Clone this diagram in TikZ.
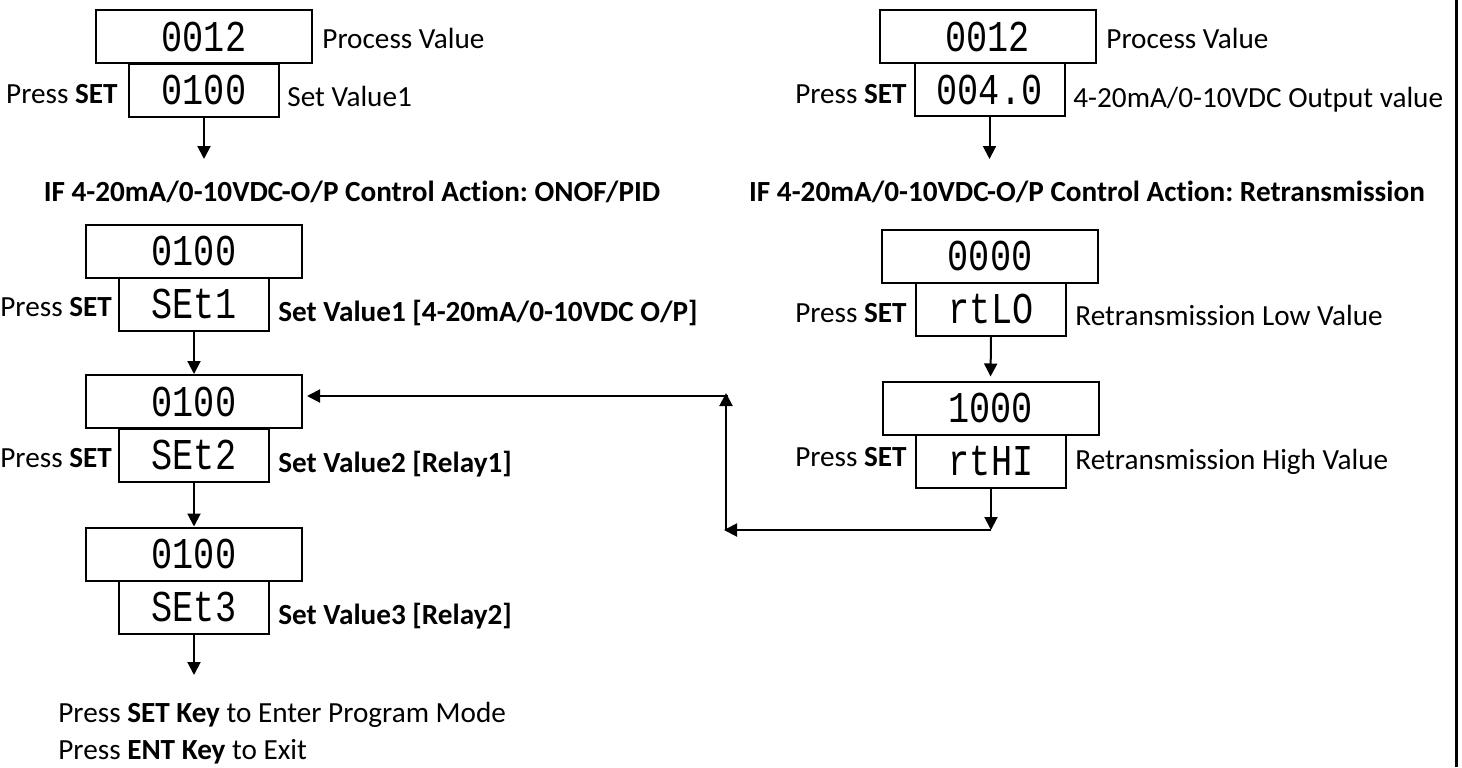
\documentclass[tikz,border=0pt]{standalone}
\usepackage{fontspec}
\usepackage{graphicx}
\setmainfont{Carlito}[Ligatures={NoCommon}]
\newfontfamily\segfont{Liberation Mono}
\usetikzlibrary{arrows.meta}
\frenchspacing
\newcommand\lbfont{\fontsize{14.6pt}{17pt}\selectfont}
\newcommand\seg[1]{\scalebox{0.8}[1]{\segfont\fontsize{22pt}{22pt}\selectfont #1}}
\begin{document}
\begin{tikzpicture}[x=0.5pt,y=-0.5pt,
  bigbox/.style={draw, line width=1pt, minimum width=108pt, minimum height=26.5pt, inner sep=0pt, fill=white},
  smallbox/.style={draw, line width=1pt, minimum width=75pt, minimum height=26.5pt, inner sep=0pt, fill=white},
  lbl/.style={font=\lbfont, inner sep=0pt},
  hd/.style={font=\lbfont\bfseries, inner sep=0pt},
  arr/.style={line width=1pt, -{Triangle[width=6.5pt,length=6.5pt]}}]
\useasboundingbox (0,0) rectangle (1462,767);
\draw[line width=1.5pt] (1456,0) -- (1456,767);

% left top group
\node[bigbox] (pv1) at (204,36.5) {\seg{0012}};
\node[smallbox] (sv1) at (204,90) {\seg{0100}};
\node[lbl, anchor=base west] (pv1t) at (322,48) {Process Value};
\node[lbl, anchor=base east] (sv1p) at (118,103) {Press \textbf{SET}};
\node[lbl, anchor=base west] (sv1t) at (287,106) {Set Value1};
\coordinate (t1) at (204,159);
\draw[arr] (sv1.south) -- (t1);

% right top group
\node[bigbox] (pv2) at (987.5,36.5) {\seg{0012}};
\node[smallbox] (op2) at (989.5,89.5) {\seg{004.0}};
\node[lbl, anchor=base west] (pv2t) at (1106,48) {Process Value};
\node[lbl, anchor=base east] (op2p) at (907,103) {Press \textbf{SET}};
\node[lbl, anchor=base west] (op2t) at (1073,107) {4-20mA/0-10VDC Output value};
\coordinate (t2) at (989.5,159);
\draw[arr] (op2.south) -- (t2);

% headings
\node[hd, anchor=base] (h1) at (352,201) {IF 4-20mA/0-10VDC-O/P Control Action: ONOF/PID};
\node[hd, anchor=base] (h2) at (1087,201) {IF 4-20mA/0-10VDC-O/P Control Action: Retransmission};

% left column
\node[bigbox] (a1) at (194,251) {\seg{0100}};
\node[smallbox] (a2) at (194,304) {\seg{SEt1}};
\node[lbl, anchor=base west] (a2p) at (0,316) {Press \textbf{SET}};
\node[lbl, anchor=base west] (a2t) at (278,321) {\textbf{Set Value1 [4-20mA/0-10VDC O/P]}};

\node[bigbox] (b1) at (194,401.5) {\seg{0100}};
\node[smallbox] (b2) at (194,455) {\seg{SEt2}};
\node[lbl, anchor=base west] (b2p) at (0,467) {Press \textbf{SET}};
\node[lbl, anchor=base west] (b2t) at (278,472) {\textbf{Set Value2 [Relay1]}};

\node[bigbox] (c1) at (194,554) {\seg{0100}};
\node[smallbox] (c2) at (194,607) {\seg{SEt3}};
\node[lbl, anchor=base west] (c2t) at (278,624) {\textbf{Set Value3 [Relay2]}};

\draw[arr] (a2.south) -- (b1.north);
\draw[arr] (b2.south) -- (c1.north);
\coordinate (t3) at (194,675);
\draw[arr] (c2.south) -- (t3);

\node[lbl, anchor=base west] (f1) at (58,722) {Press \textbf{SET Key} to Enter Program Mode};
\node[lbl, anchor=base west] (f2) at (58,759) {Press \textbf{ENT Key} to Exit};

% right column
\node[bigbox] (d1) at (990,256) {\seg{0000}};
\node[smallbox] (d2) at (991,309) {\seg{rtLO}};
\node[lbl, anchor=base east] (d2p) at (907,322) {Press \textbf{SET}};
\node[lbl, anchor=base west] (d2t) at (1075,325) {Retransmission Low Value};

\node[bigbox] (d3) at (990.5,408) {\seg{1000}};
\node[smallbox] (d4) at (991,461) {\seg{rtHI}};
\node[lbl, anchor=base east] (d4p) at (907,466) {Press \textbf{SET}};
\node[lbl, anchor=base west] (d4t) at (1075,469) {Retransmission High Value};

\draw[arr, shorten >=2pt] (d2.south) -- (d3.north);

% loop back connector
\coordinate (k1) at (991,530);
\coordinate (k2) at (724,530);
\coordinate (k3) at (726,393);
\draw[arr] (d4.south) -- (k1);
\draw[arr] (k1) -- (k2);
\draw[arr] (726,530) -- (k3);
\draw[arr] (728,396) -- ([xshift=2pt]b1.east |- 0,396);
\end{tikzpicture}
\end{document}
